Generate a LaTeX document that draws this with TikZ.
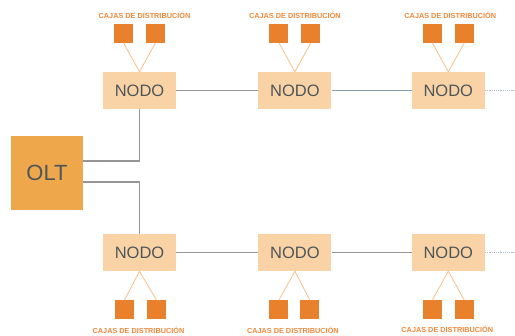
\documentclass[tikz,border=0pt]{standalone}
\usepackage{fontspec}
\setmainfont{Liberation Sans}
\usepackage{xcolor}
\usepackage{tikz}
\usetikzlibrary{positioning}

\definecolor{nodofill}{HTML}{F9D3A6}
\definecolor{oltfill}{HTML}{EFA74C}
\definecolor{cajafill}{HTML}{E8802C}
\definecolor{textgray}{HTML}{4E5658}
\definecolor{lblorange}{HTML}{F0883A}
\definecolor{linegray}{HTML}{959595}
\definecolor{lineblue}{HTML}{859CAE}
\definecolor{feedorange}{HTML}{F6C594}

\begin{document}
\begin{tikzpicture}[
  x=1pt, y=-1pt,
  nodo/.style={rectangle, fill=nodofill, minimum width=73pt, minimum height=37pt,
               font=\fontsize{16.5}{18}\selectfont, text=textgray},
  olt/.style={rectangle, fill=oltfill, minimum width=72pt, minimum height=74pt,
              font=\fontsize{22}{24}\selectfont, text=textgray},
  caja/.style={rectangle, fill=cajafill, minimum size=19pt, inner sep=0pt},
  lbl/.style={font=\fontsize{7.3}{8}\selectfont\bfseries, text=lblorange, inner sep=1pt},
  link/.style={draw=linegray, line width=1.4pt},
  bluelink/.style={draw=lineblue, line width=1.4pt},
  feed/.style={draw=feedorange, line width=0.9pt},
  tail/.style={draw=lineblue!70, line width=1.2pt, densely dotted},
]
\useasboundingbox (0,0) rectangle (515,336);

% OLT and the two rows of nodes
\node[olt] (olt) at (47,173) {OLT};
\node[nodo] (n1) at (139.5,90.5) {NODO};
\node[nodo, right=82pt of n1] (n2) {NODO};
\node[nodo, right=80pt of n2] (n3) {NODO};
\node[nodo] (m1) at (139.5,252.5) {NODO};
\node[nodo, right=82pt of m1] (m2) {NODO};
\node[nodo, right=80pt of m2] (m3) {NODO};

% Distribution boxes on top
\node[caja, above=29pt of n1.north, xshift=-16pt] (c1a) {};
\node[caja, above=29pt of n1.north, xshift=16pt] (c1b) {};
\node[caja, above=29pt of n2.north, xshift=-16pt] (c2a) {};
\node[caja, above=29pt of n2.north, xshift=16pt] (c2b) {};
\node[caja, above=29pt of n3.north, xshift=-16pt] (c3a) {};
\node[caja, above=29pt of n3.north, xshift=16pt] (c3b) {};

% Distribution boxes below
\node[caja, below=29pt of m1.south, xshift=-15pt] (d1a) {};
\node[caja, below=29pt of m1.south, xshift=17pt] (d1b) {};
\node[caja, below=29pt of m2.south, xshift=-16pt] (d2a) {};
\node[caja, below=29pt of m2.south, xshift=15pt] (d2b) {};
\node[caja, below=29pt of m3.south, xshift=-16pt] (d3a) {};
\node[caja, below=29pt of m3.south, xshift=16pt] (d3b) {};

% Labels
\node[lbl, above=4pt of c1a.north, xshift=21pt] (l1) {CAJAS DE DISTRIBUCIÓN};
\node[lbl, above=4pt of c2a.north, xshift=16pt] (l2) {CAJAS DE DISTRIBUCIÓN};
\node[lbl, above=4pt of c3a.north, xshift=18pt] (l3) {CAJAS DE DISTRIBUCIÓN};
\node[lbl, below=6pt of d1a.south, xshift=14pt] (k1) {CAJAS DE DISTRIBUCIÓN};
\node[lbl, below=6pt of d2a.south, xshift=14pt] (k2) {CAJAS DE DISTRIBUCIÓN};
\node[lbl, below=5pt of d3a.south, xshift=15pt] (k3) {CAJAS DE DISTRIBUCIÓN};

% Feeders from the boxes
\draw[feed] (c1a.south) -- (n1.north) -- (c1b.south);
\draw[feed] (c2a.south) -- (n2.north) -- (c2b.south);
\draw[feed] (c3a.south) -- (n3.north) -- (c3b.south);
\draw[feed] (d1a.north) -- (m1.south) -- (d1b.north);
\draw[feed] (d2a.north) -- (m2.south) -- (d2b.north);
\draw[feed] (d3a.north) -- (m3.south) -- (d3b.north);

% OLT to the first node of each row
\draw[link] ([yshift=12pt]olt.east) -| (n1.south);
\draw[link] ([yshift=-9pt]olt.east) -| (m1.north);

% Node chains
\draw[link] (n1) -- (n2);
\draw[bluelink] (n2) -- (n3);
\draw[link] (m1) -- (m2);
\draw[link] (m2) -- (m3);

% Dotted continuation
\coordinate[right=30pt of n3] (t1);
\coordinate[right=30pt of m3] (t2);
\draw[tail] (n3) -- (t1);
\draw[tail] (m3) -- (t2);

\end{tikzpicture}
\end{document}
